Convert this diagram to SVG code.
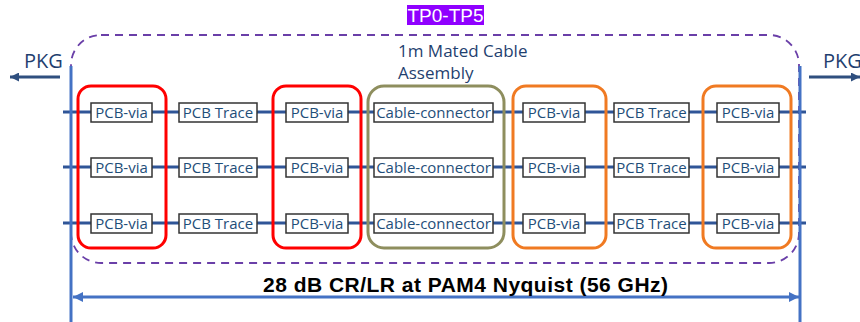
<svg xmlns="http://www.w3.org/2000/svg" width="860" height="322" viewBox="0 0 860 322">
<defs>
<style>
.bx{fill:#fff;stroke:#333;stroke-width:1.5}
.bt{font-family:"Open Sans","Noto Sans",sans-serif;font-size:15px;fill:#1F4E79;text-anchor:middle}
.row{stroke:#2F5597;stroke-width:3}
.vl{stroke:#4472C4;stroke-width:3}
.grp{fill:none;stroke-width:3}
.lbl{font-family:"Open Sans","Noto Sans",sans-serif;fill:#1F3F6F}
</style>
<marker id="ah" viewBox="0 0 10 10" refX="10" refY="5" markerWidth="10" markerHeight="10" markerUnits="userSpaceOnUse" orient="auto-start-reverse">
<path d="M0,0 L10,5 L0,10 z" fill="#4472C4"/>
</marker>
<marker id="ahd" viewBox="0 0 10 10" refX="10" refY="5" markerWidth="9" markerHeight="9" markerUnits="userSpaceOnUse" orient="auto-start-reverse">
<path d="M0,0 L10,5 L0,10 z" fill="#2F4F7F"/>
</marker>
</defs>
<rect width="860" height="322" fill="#fff"/>

<g id="tp-label">
<rect x="407" y="5" width="77" height="20" fill="#8F00FF"/>
<text x="445.5" y="22" font-family="'Liberation Sans',Arial,sans-serif" font-size="19" fill="#fff" text-anchor="middle">TP0-TP5</text>
</g>

<g id="cable-assembly">
<rect x="71" y="35" width="728" height="228" rx="30" ry="30" fill="none" stroke="#6A3FA8" stroke-width="1.8" stroke-dasharray="8 6"/>
<text class="lbl" x="398" y="57" font-size="17">1m Mated Cable</text>
<text class="lbl" x="398" y="79" font-size="17">Assembly</text>
</g>

<g id="connectors">
<line class="row" x1="63" y1="112" x2="806" y2="112"/>
<line class="row" x1="63" y1="167" x2="806" y2="167"/>
<line class="row" x1="63" y1="223" x2="806" y2="223"/>
<line class="vl" x1="71" y1="66" x2="71" y2="322"/>
<line class="vl" x1="800" y1="66" x2="800" y2="322"/>
<line x1="60" y1="77" x2="10" y2="77" stroke="#2F4F7F" stroke-width="3" marker-end="url(#ahd)"/>
<line x1="809" y1="77" x2="860" y2="77" stroke="#2F4F7F" stroke-width="3" marker-end="url(#ahd)"/>
<line x1="73" y1="297" x2="799" y2="297" stroke="#4472C4" stroke-width="3" marker-start="url(#ah)" marker-end="url(#ah)"/>
</g>

<g id="pkg-left"><text class="lbl" x="24" y="68" font-size="20">PKG</text></g>
<g id="pkg-right"><text class="lbl" x="823" y="68" font-size="20">PKG</text></g>

<g id="group-red1"><rect class="grp" x="78" y="86" width="88" height="162" rx="13" stroke="#FF0000"/></g>
<g id="group-red2"><rect class="grp" x="273" y="86" width="88" height="162" rx="13" stroke="#FF0000"/></g>
<g id="group-olive"><rect class="grp" x="368" y="86" width="136" height="162" rx="16" stroke="#8E8E5E"/></g>
<g id="group-orange1"><rect class="grp" x="513" y="86" width="93" height="162" rx="13" stroke="#F07A22"/></g>
<g id="group-orange2"><rect class="grp" x="703" y="86" width="88" height="162" rx="13" stroke="#F07A22"/></g>

<g id="row1">
<g id="r1-via1"><rect class="bx" x="91" y="103" width="61" height="19"/><text class="bt" x="121.5" y="118">PCB-via</text></g>
<g id="r1-trace1"><rect class="bx" x="179" y="103" width="78" height="19"/><text class="bt" x="218" y="118">PCB Trace</text></g>
<g id="r1-via2"><rect class="bx" x="286" y="103" width="62" height="19"/><text class="bt" x="317" y="118">PCB-via</text></g>
<g id="r1-cable"><rect class="bx" x="374" y="103" width="119" height="19"/><text class="bt" x="433.5" y="118">Cable-connector</text></g>
<g id="r1-via3"><rect class="bx" x="523" y="103" width="62" height="19"/><text class="bt" x="554" y="118">PCB-via</text></g>
<g id="r1-trace2"><rect class="bx" x="614" y="103" width="75" height="19"/><text class="bt" x="651.5" y="118">PCB Trace</text></g>
<g id="r1-via4"><rect class="bx" x="717" y="103" width="62" height="19"/><text class="bt" x="748" y="118">PCB-via</text></g>
</g>
<g id="row2">
<g id="r2-via1"><rect class="bx" x="91" y="158" width="61" height="19"/><text class="bt" x="121.5" y="173">PCB-via</text></g>
<g id="r2-trace1"><rect class="bx" x="179" y="158" width="78" height="19"/><text class="bt" x="218" y="173">PCB Trace</text></g>
<g id="r2-via2"><rect class="bx" x="286" y="158" width="62" height="19"/><text class="bt" x="317" y="173">PCB-via</text></g>
<g id="r2-cable"><rect class="bx" x="374" y="158" width="119" height="19"/><text class="bt" x="433.5" y="173">Cable-connector</text></g>
<g id="r2-via3"><rect class="bx" x="523" y="158" width="62" height="19"/><text class="bt" x="554" y="173">PCB-via</text></g>
<g id="r2-trace2"><rect class="bx" x="614" y="158" width="75" height="19"/><text class="bt" x="651.5" y="173">PCB Trace</text></g>
<g id="r2-via4"><rect class="bx" x="717" y="158" width="62" height="19"/><text class="bt" x="748" y="173">PCB-via</text></g>
</g>
<g id="row3">
<g id="r3-via1"><rect class="bx" x="91" y="214" width="61" height="19"/><text class="bt" x="121.5" y="229">PCB-via</text></g>
<g id="r3-trace1"><rect class="bx" x="179" y="214" width="78" height="19"/><text class="bt" x="218" y="229">PCB Trace</text></g>
<g id="r3-via2"><rect class="bx" x="286" y="214" width="62" height="19"/><text class="bt" x="317" y="229">PCB-via</text></g>
<g id="r3-cable"><rect class="bx" x="374" y="214" width="119" height="19"/><text class="bt" x="433.5" y="229">Cable-connector</text></g>
<g id="r3-via3"><rect class="bx" x="523" y="214" width="62" height="19"/><text class="bt" x="554" y="229">PCB-via</text></g>
<g id="r3-trace2"><rect class="bx" x="614" y="214" width="75" height="19"/><text class="bt" x="651.5" y="229">PCB Trace</text></g>
<g id="r3-via4"><rect class="bx" x="717" y="214" width="62" height="19"/><text class="bt" x="748" y="229">PCB-via</text></g>
</g>

<g id="loss-label">
<text x="263" y="292" font-family="'Liberation Sans',Arial,sans-serif" font-size="21" font-weight="bold" fill="#000" textLength="405">28 dB CR/LR at PAM4 Nyquist (56 GHz)</text>
</g>
</svg>
